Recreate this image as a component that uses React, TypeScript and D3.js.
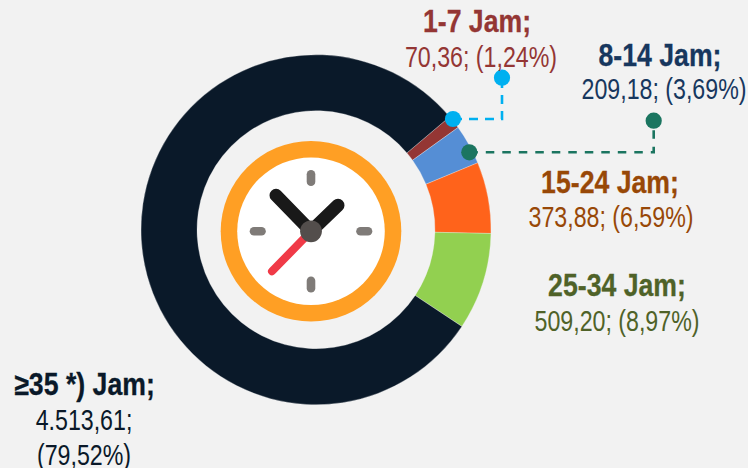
import * as d3 from "d3";
import { useEffect, useRef } from "react";

const W = 748;
const H = 468;

const categories = ["1-7 Jam;", "8-14 Jam;", "15-24 Jam;", "25-34 Jam;", "≥35 *) Jam;"];
const values = [70.36, 209.18, 373.88, 509.2, 4513.61];
const valueLabels = [
  ["70,36; (1,24%)"],
  ["209,18; (3,69%)"],
  ["373,88; (6,59%)"],
  ["509,20; (8,97%)"],
  ["4.513,61;", "(79,52%)"],
];
const sliceColors = ["#943634", "#558ed5", "#ff631b", "#92d050", "#0a1929"];
const textColors = ["#943634", "#17375e", "#984807", "#4f6228", "#0a1929"];
const titlePos = [
  [477, 32],
  [660, 66],
  [610, 193],
  [617, 296],
  [84.5, 395],
];
const valuePos = [
  [481, 67],
  [664, 99],
  [611, 227],
  [617, 331],
  [84, 430],
];

const FONT = "'Liberation Sans', Arial, sans-serif";

export default function App() {
  const ref = useRef<SVGSVGElement>(null);

  useEffect(() => {
    document.body.style.margin = "0";
    const svg = d3.select(ref.current);
    svg.selectAll("*").remove();

    svg.append("rect").attr("width", W).attr("height", H).attr("fill", "#f2f2f2");

    // 圆环
    const pie = d3
      .pie<number>()
      .sort(null)
      .startAngle((49.8 * Math.PI) / 180)
      .endAngle((409.8 * Math.PI) / 180);
    const arc = d3.arc<d3.PieArcDatum<number>>().innerRadius(119).outerRadius(175);

    svg
      .append("g")
      .attr("transform", "translate(316,229.7)")
      .selectAll("path")
      .data(pie(values))
      .join("path")
      .attr("d", arc)
      .attr("fill", (d, i) => sliceColors[i])
      .attr("stroke", "#f2f2f2")
      .attr("stroke-width", 0.3);

    // 时钟
    const clock = svg.append("g").attr("transform", "translate(311,231.3)");
    clock.append("circle").attr("r", 90.3).attr("fill", "#ff9f24");
    clock.append("circle").attr("r", 73.8).attr("fill", "#ffffff");
    const ticks: [number, number, number, number][] = [
      [0, -57, 0, -49.5],
      [0, 49.5, 0, 57],
      [-57, 0, -49.5, 0],
      [49.5, 0, 57, 0],
    ];
    clock
      .selectAll("line.tick")
      .data(ticks)
      .join("line")
      .attr("class", "tick")
      .attr("x1", (d) => d[0])
      .attr("y1", (d) => d[1])
      .attr("x2", (d) => d[2])
      .attr("y2", (d) => d[3])
      .attr("stroke", "#7f7b78")
      .attr("stroke-width", 8.6)
      .attr("stroke-linecap", "round");
    clock
      .append("line")
      .attr("x2", -39)
      .attr("y2", 40)
      .attr("stroke", "#f03a47")
      .attr("stroke-width", 8)
      .attr("stroke-linecap", "round");
    [
      [-35, -36],
      [27, -26],
    ].forEach(([x, y]) => {
      clock
        .append("line")
        .attr("x2", x)
        .attr("y2", y)
        .attr("stroke", "#191919")
        .attr("stroke-width", 13)
        .attr("stroke-linecap", "round");
    });
    clock.append("circle").attr("r", 10.9).attr("fill", "#534e4c");

    // 引线
    const leaders = [
      { color: "#00b0f0", from: [453, 119], to: [502, 77.7], dash: "9 7" },
      { color: "#1b7560", from: [469.3, 152.3], to: [653.7, 120.7], dash: "8.5 8" },
    ];
    leaders.forEach((l) => {
      svg
        .append("path")
        .attr("d", `M${l.from[0]},${l.from[1]}H${l.to[0]}V${l.to[1]}`)
        .attr("fill", "none")
        .attr("stroke", l.color)
        .attr("stroke-width", 2.6)
        .attr("stroke-dasharray", l.dash);
      [l.from, l.to].forEach((p) => {
        svg.append("circle").attr("cx", p[0]).attr("cy", p[1]).attr("r", 8.1).attr("fill", l.color);
      });
    });

    // 标签，原图是窄体字，这里横向压缩
    categories.forEach((c, i) => {
      svg
        .append("text")
        .attr("transform", `translate(${titlePos[i][0]},${titlePos[i][1]}) scale(0.86,1)`)
        .attr("text-anchor", "middle")
        .attr("font-family", FONT)
        .attr("font-weight", "bold")
        .attr("font-size", 31)
        .attr("stroke", textColors[i])
        .attr("stroke-width", 0.3)
        .attr("fill", textColors[i])
        .text(c);
      valueLabels[i].forEach((t, j) => {
        svg
          .append("text")
          .attr("transform", `translate(${valuePos[i][0]},${valuePos[i][1] + j * 35}) scale(0.8,1)`)
          .attr("text-anchor", "middle")
          .attr("font-family", FONT)
          .attr("font-size", 29)
          .attr("fill", textColors[i])
          .text(t);
      });
    });
  }, []);

  return <svg ref={ref} width={W} height={H} style={{ display: "block" }} />;
}
